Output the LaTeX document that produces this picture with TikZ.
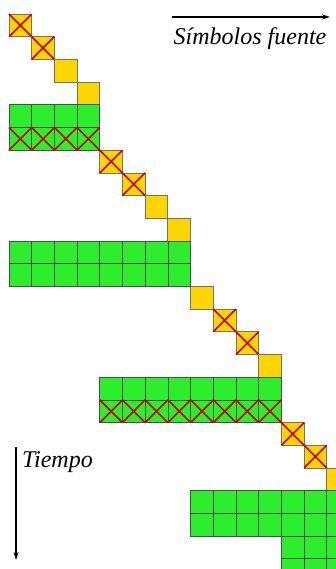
\documentclass[tikz,border=0pt]{standalone}
\usepackage{fontspec}
\setmainfont{Liberation Serif}
\newfontfamily\lblfont{Liberation Serif Italic}
\usetikzlibrary{arrows.meta}
\definecolor{symcol}{RGB}{255,213,0}
\definecolor{blkcol}{RGB}{44,238,44}
\definecolor{losscol}{RGB}{205,0,0}

\begin{document}
\begin{tikzpicture}[
  x=22.7pt, y=-22.7pt,
  ycell/.style={fill=symcol, draw=black!55, line width=0.8pt},
  gcell/.style={fill=blkcol, draw=black!70, line width=0.7pt},
  lost/.style={draw=losscol, line width=1.6pt},
  axis/.style={-{Stealth[length=8pt, width=5pt]}, line width=1.1pt},
  lbl/.style={font=\fontsize{24}{26}\lblfont, inner sep=0pt}
]
  \clip (-0.396,-0.617) rectangle (14.405,24.449);

  % source symbols on the diagonal (col/row/erased)
  \foreach \c/\r/\e in {0/0/1, 1/1/1, 2/2/0, 3/3/0,
                        4/6/1, 5/7/1, 6/8/0, 7/9/0,
                        8/12/0, 9/13/1, 10/14/1, 11/15/0,
                        12/18/1, 13/19/1, 14/20/0} {
    \draw[ycell] (\c,\r) rectangle ++(1,1);
    \ifnum\e=1
      \draw[lost] (\c,\r) -- ++(1,1) (\c+1,\r) -- ++(-1,1);
    \fi
  }

  % coded blocks (row/first col/last col/erased)
  \foreach \r/\c/\n/\e in {4/0/3/0, 5/0/3/1,
                           10/0/7/0, 11/0/7/0,
                           16/4/11/0, 17/4/11/1,
                           21/8/14/0, 22/8/14/0,
                           23/12/14/0, 24/12/14/0} {
    \foreach \x in {\c,...,\n} {
      \draw[gcell] (\x,\r) rectangle ++(1,1);
      \ifnum\e=1
        \draw[lost] (\x,\r) -- ++(1,1) (\x+1,\r) -- ++(-1,1);
      \fi
    }
  }

  % axes
  \coordinate (src0) at (7.18,0.13);
  \coordinate (src1) at (14.14,0.13);
  \draw[axis] (src0) -- (src1);
  \node[lbl] (srclbl) at (10.62,1.08) {Símbolos fuente};

  \coordinate (time0) at (0.31,19.07);
  \coordinate (time1) at (0.31,24.05);
  \draw[axis] (time0) -- (time1);
  \node[lbl, anchor=west] (timelbl) at (0.57,19.72) {Tiempo};

\end{tikzpicture}
\end{document}
